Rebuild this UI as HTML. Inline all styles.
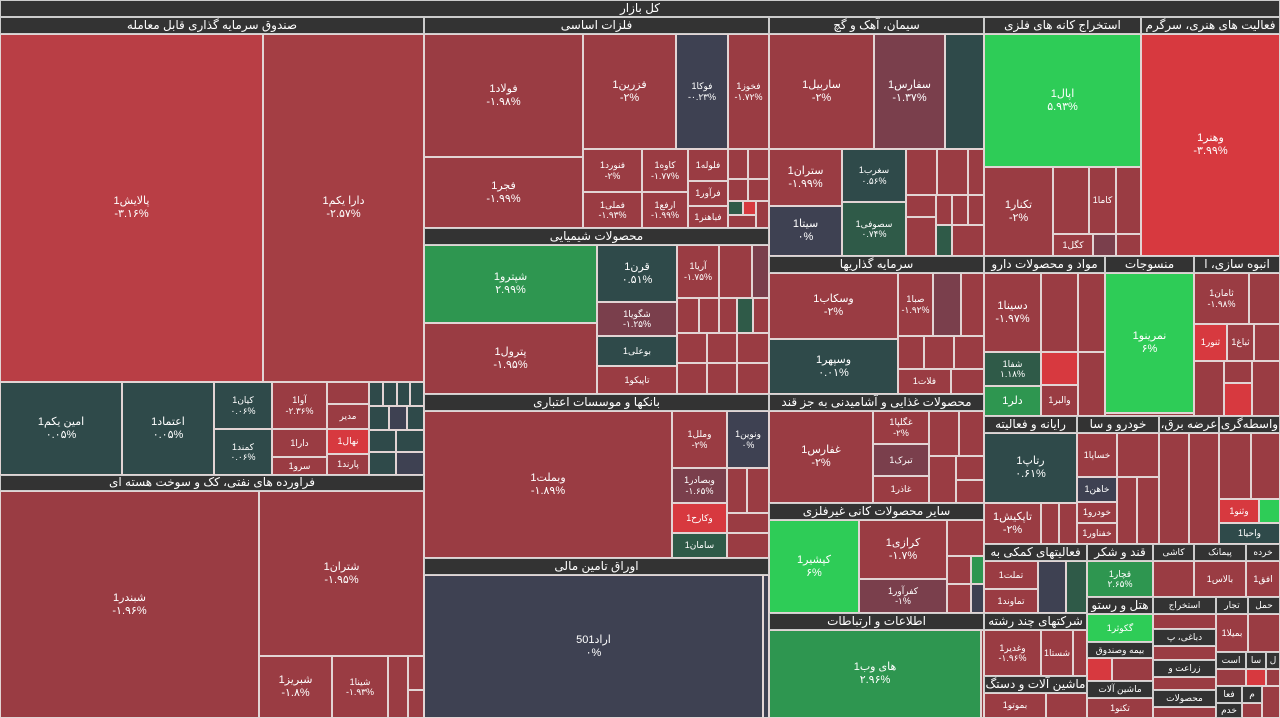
<!DOCTYPE html>
<html><head><meta charset="utf-8">
<style>
body{margin:0;width:1280px;height:718px;overflow:hidden;background:#ddd0d0;font-family:"Liberation Sans","DejaVu Sans",sans-serif;position:relative}
.b{position:absolute;box-sizing:border-box;border:1px solid #e2d4d4;color:#fff;display:flex;flex-direction:column;align-items:center;justify-content:center;text-align:center;font-size:11px;line-height:1.15;overflow:hidden;direction:ltr;background:#9a3c43;white-space:nowrap}
.h{background:#333;font-size:12px;border-color:#ccc;direction:rtl}
.r{background:#9a3c43}.br{background:#b93e45}.rr{background:#d7393f}.g{background:#2ecc57}.dg{background:#2e9650}.s{background:#2f4a4a}.n{background:#3e4152}.m{background:#7a3f4c}.sg{background:#2f5a48}.ar{background:#a43e44}
.f{font-size:9px}
</style></head><body>
<div class="b h" style="left:0;top:0;width:1280px;height:17px">کل بازار</div>

<!-- column 1 -->
<div class="b h" style="left:0;top:17px;width:424px;height:17px">صندوق سرمایه گذاری قابل معامله</div>
<div class="b br" style="left:0;top:34px;width:263px;height:348px">پالایش1<br>-۳.۱۶%</div>
<div class="b ar" style="left:263px;top:34px;width:161px;height:348px">دارا یکم1<br>-۲.۵۷%</div>
<div class="b s" style="left:0;top:382px;width:122px;height:93px">امین یکم1<br>۰.۰۵%</div>
<div class="b s" style="left:122px;top:382px;width:92px;height:93px">اعتماد1<br>۰.۰۵%</div>
<div class="b s f" style="left:214px;top:382px;width:58px;height:47px">کیان1<br>۰.۰۶%</div>
<div class="b s f" style="left:214px;top:429px;width:58px;height:46px">کمند1<br>۰.۰۶%</div>
<div class="b f" style="left:272px;top:382px;width:55px;height:47px">آوا1<br>-۲.۳۶%</div>
<div class="b f" style="left:272px;top:429px;width:55px;height:28px">دارا1</div>
<div class="b f" style="left:272px;top:457px;width:55px;height:18px">سرو1</div>
<div class="b" style="left:327px;top:382px;width:42px;height:22px"></div>
<div class="b f" style="left:327px;top:404px;width:42px;height:25px">مدیر</div>
<div class="b rr f" style="left:327px;top:429px;width:42px;height:25px">نهال1</div>
<div class="b f" style="left:327px;top:454px;width:42px;height:21px">پارند1</div>
<div class="b s" style="left:369px;top:382px;width:14px;height:24px"></div>
<div class="b s" style="left:383px;top:382px;width:14px;height:24px"></div>
<div class="b s" style="left:397px;top:382px;width:13px;height:24px"></div>
<div class="b s" style="left:410px;top:382px;width:14px;height:24px"></div>
<div class="b s" style="left:369px;top:406px;width:20px;height:24px"></div>
<div class="b n" style="left:389px;top:406px;width:18px;height:24px"></div>
<div class="b s" style="left:407px;top:406px;width:17px;height:24px"></div>
<div class="b s" style="left:369px;top:430px;width:27px;height:22px"></div>
<div class="b s" style="left:396px;top:430px;width:28px;height:22px"></div>
<div class="b s" style="left:369px;top:452px;width:27px;height:23px"></div>
<div class="b n" style="left:396px;top:452px;width:28px;height:23px"></div>
<div class="b h" style="left:0;top:475px;width:424px;height:16px">فراورده های نفتی، کک و سوخت هسته ای</div>
<div class="b" style="left:0;top:491px;width:259px;height:227px">شبندر1<br>-۱.۹۶%</div>
<div class="b" style="left:259px;top:491px;width:165px;height:165px">شتران1<br>-۱.۹۵%</div>
<div class="b" style="left:259px;top:656px;width:73px;height:62px">شبریز1<br>-۱.۸%</div>
<div class="b f" style="left:332px;top:656px;width:56px;height:62px">شینا1<br>-۱.۹۳%</div>
<div class="b" style="left:388px;top:656px;width:20px;height:62px"></div>
<div class="b" style="left:408px;top:656px;width:16px;height:34px"></div>
<div class="b" style="left:408px;top:690px;width:16px;height:28px"></div>

<!-- column 2 -->
<div class="b h" style="left:424px;top:17px;width:345px;height:17px">فلزات اساسی</div>
<div class="b" style="left:424px;top:34px;width:159px;height:123px">فولاد1<br>-۱.۹۸%</div>
<div class="b" style="left:424px;top:157px;width:159px;height:71px">فجر1<br>-۱.۹۹%</div>
<div class="b" style="left:583px;top:34px;width:93px;height:115px">فزرین1<br>-۲%</div>
<div class="b n f" style="left:676px;top:34px;width:52px;height:115px">فوکا1<br>-۰.۲۳%</div>
<div class="b f" style="left:728px;top:34px;width:41px;height:115px">فخوز1<br>-۱.۷۲%</div>
<div class="b f" style="left:583px;top:149px;width:59px;height:43px">فنورد1<br>-۲%</div>
<div class="b f" style="left:583px;top:192px;width:59px;height:36px">فملی1<br>-۱.۹۳%</div>
<div class="b f" style="left:642px;top:149px;width:46px;height:43px">کاوه1<br>-۱.۷۷%</div>
<div class="b f" style="left:642px;top:192px;width:46px;height:36px">ارفع1<br>-۱.۹۹%</div>
<div class="b f" style="left:688px;top:149px;width:40px;height:32px">فلوله1</div>
<div class="b f" style="left:688px;top:181px;width:40px;height:25px">فرآور1</div>
<div class="b f" style="left:688px;top:206px;width:40px;height:22px">فباهنر1</div>
<div class="b" style="left:728px;top:149px;width:20px;height:30px"></div>
<div class="b" style="left:748px;top:149px;width:21px;height:30px"></div>
<div class="b" style="left:728px;top:179px;width:20px;height:22px"></div>
<div class="b" style="left:748px;top:179px;width:21px;height:22px"></div>
<div class="b sg" style="left:728px;top:201px;width:15px;height:14px"></div>
<div class="b rr" style="left:743px;top:201px;width:13px;height:14px"></div>
<div class="b" style="left:756px;top:201px;width:13px;height:27px"></div>
<div class="b" style="left:728px;top:215px;width:28px;height:13px"></div>
<div class="b h" style="left:424px;top:228px;width:345px;height:17px">محصولات شیمیایی</div>
<div class="b dg" style="left:424px;top:245px;width:173px;height:78px">شپترو1<br>۲.۹۹%</div>
<div class="b" style="left:424px;top:323px;width:173px;height:71px">پترول1<br>-۱.۹۵%</div>
<div class="b s" style="left:597px;top:245px;width:80px;height:57px">قرن1<br>۰.۵۱%</div>
<div class="b m f" style="left:597px;top:302px;width:80px;height:34px">شگویا1<br>-۱.۲۵%</div>
<div class="b s f" style="left:597px;top:336px;width:80px;height:30px">بوعلی1</div>
<div class="b f" style="left:597px;top:366px;width:80px;height:28px">تاپیکو1</div>
<div class="b f" style="left:677px;top:245px;width:42px;height:53px">آریا1<br>-۱.۷۵%</div>
<div class="b" style="left:719px;top:245px;width:33px;height:53px"></div>
<div class="b m" style="left:752px;top:245px;width:17px;height:53px"></div>
<div class="b" style="left:677px;top:298px;width:22px;height:35px"></div>
<div class="b" style="left:699px;top:298px;width:20px;height:35px"></div>
<div class="b" style="left:719px;top:298px;width:18px;height:35px"></div>
<div class="b sg" style="left:737px;top:298px;width:16px;height:35px"></div>
<div class="b" style="left:753px;top:298px;width:16px;height:35px"></div>
<div class="b" style="left:677px;top:333px;width:30px;height:30px"></div>
<div class="b" style="left:707px;top:333px;width:30px;height:30px"></div>
<div class="b" style="left:737px;top:333px;width:32px;height:30px"></div>
<div class="b" style="left:677px;top:363px;width:30px;height:31px"></div>
<div class="b" style="left:707px;top:363px;width:30px;height:31px"></div>
<div class="b" style="left:737px;top:363px;width:32px;height:31px"></div>
<div class="b h" style="left:424px;top:394px;width:345px;height:17px">بانکها و موسسات اعتباری</div>
<div class="b" style="left:424px;top:411px;width:248px;height:147px">وبملت1<br>-۱.۸۹%</div>
<div class="b f" style="left:672px;top:411px;width:55px;height:57px">وملل1<br>-۲%</div>
<div class="b n f" style="left:727px;top:411px;width:42px;height:57px">ونوین1<br>۰%</div>
<div class="b m f" style="left:672px;top:468px;width:55px;height:35px">وبصادر1<br>-۱.۶۵%</div>
<div class="b rr f" style="left:672px;top:503px;width:55px;height:30px">وکارح1</div>
<div class="b sg f" style="left:672px;top:533px;width:55px;height:25px">سامان1</div>
<div class="b" style="left:727px;top:468px;width:20px;height:45px"></div>
<div class="b" style="left:747px;top:468px;width:22px;height:45px"></div>
<div class="b" style="left:727px;top:513px;width:42px;height:20px"></div>
<div class="b" style="left:727px;top:533px;width:42px;height:25px"></div>
<div class="b h" style="left:424px;top:558px;width:345px;height:17px">اوراق تامین مالی</div>
<div class="b n" style="left:424px;top:575px;width:339px;height:143px">اراد501<br>۰%</div>
<div class="b n" style="left:763px;top:575px;width:6px;height:143px"></div>

<!-- column 3 -->
<div class="b h" style="left:769px;top:17px;width:215px;height:17px">سیمان، آهک و گچ</div>
<div class="b" style="left:769px;top:34px;width:105px;height:115px">ساربیل1<br>-۲%</div>
<div class="b m" style="left:874px;top:34px;width:71px;height:115px">سفارس1<br>-۱.۳۷%</div>
<div class="b s" style="left:945px;top:34px;width:39px;height:115px"></div>
<div class="b" style="left:769px;top:149px;width:73px;height:57px">ستران1<br>-۱.۹۹%</div>
<div class="b n" style="left:769px;top:206px;width:73px;height:50px">سیتا1<br>۰%</div>
<div class="b s f" style="left:842px;top:149px;width:64px;height:53px">سغرب1<br>۰.۵۶%</div>
<div class="b sg f" style="left:842px;top:202px;width:64px;height:54px">سصوفی1<br>۰.۷۴%</div>
<div class="b" style="left:906px;top:149px;width:31px;height:46px"></div>
<div class="b" style="left:937px;top:149px;width:31px;height:46px"></div>
<div class="b" style="left:968px;top:149px;width:16px;height:46px"></div>
<div class="b" style="left:906px;top:195px;width:30px;height:22px"></div>
<div class="b" style="left:936px;top:195px;width:16px;height:30px"></div>
<div class="b" style="left:952px;top:195px;width:16px;height:30px"></div>
<div class="b" style="left:968px;top:195px;width:16px;height:30px"></div>
<div class="b" style="left:906px;top:217px;width:30px;height:39px"></div>
<div class="b sg" style="left:936px;top:225px;width:16px;height:31px"></div>
<div class="b" style="left:952px;top:225px;width:32px;height:31px"></div>
<div class="b h" style="left:769px;top:256px;width:215px;height:17px">سرمایه گذاریها</div>
<div class="b" style="left:769px;top:273px;width:129px;height:66px">وسکاب1<br>-۲%</div>
<div class="b s" style="left:769px;top:339px;width:129px;height:55px">وسپهر1<br>۰.۰۱%</div>
<div class="b f" style="left:898px;top:273px;width:35px;height:63px">صبا1<br>-۱.۹۲%</div>
<div class="b m" style="left:933px;top:273px;width:28px;height:63px"></div>
<div class="b" style="left:961px;top:273px;width:23px;height:63px"></div>
<div class="b" style="left:898px;top:336px;width:26px;height:33px"></div>
<div class="b" style="left:924px;top:336px;width:30px;height:33px"></div>
<div class="b" style="left:954px;top:336px;width:30px;height:33px"></div>
<div class="b f" style="left:898px;top:369px;width:53px;height:25px">فلات1</div>
<div class="b" style="left:951px;top:369px;width:33px;height:25px"></div>
<div class="b h" style="left:769px;top:394px;width:215px;height:17px">محصولات غذایی و آشامیدنی به جز قند</div>
<div class="b" style="left:769px;top:411px;width:104px;height:92px">غفارس1<br>-۲%</div>
<div class="b f" style="left:873px;top:411px;width:56px;height:33px">غگلپا1<br>-۲%</div>
<div class="b m f" style="left:873px;top:444px;width:56px;height:32px">تبرک1</div>
<div class="b f" style="left:873px;top:476px;width:56px;height:27px">غاذر1</div>
<div class="b" style="left:929px;top:411px;width:30px;height:45px"></div>
<div class="b" style="left:959px;top:411px;width:25px;height:45px"></div>
<div class="b" style="left:929px;top:456px;width:27px;height:47px"></div>
<div class="b" style="left:956px;top:456px;width:28px;height:24px"></div>
<div class="b" style="left:956px;top:480px;width:28px;height:23px"></div>
<div class="b h" style="left:769px;top:503px;width:215px;height:17px">سایر محصولات کانی غیرفلزی</div>
<div class="b g" style="left:769px;top:520px;width:90px;height:93px">کپشیر1<br>۶%</div>
<div class="b" style="left:859px;top:520px;width:88px;height:59px">کرازی1<br>-۱.۷%</div>
<div class="b m f" style="left:859px;top:579px;width:88px;height:34px">کفرآور1<br>-۱%</div>
<div class="b" style="left:947px;top:520px;width:37px;height:36px"></div>
<div class="b" style="left:947px;top:556px;width:24px;height:28px"></div>
<div class="b dg" style="left:971px;top:556px;width:13px;height:28px"></div>
<div class="b" style="left:947px;top:584px;width:24px;height:29px"></div>
<div class="b n" style="left:971px;top:584px;width:13px;height:29px"></div>
<div class="b h" style="left:769px;top:613px;width:215px;height:17px">اطلاعات و ارتباطات</div>
<div class="b dg" style="left:769px;top:630px;width:212px;height:88px">های وب1<br>۲.۹۶%</div>
<div class="b" style="left:981px;top:630px;width:3px;height:88px"></div>

<!-- column 4 -->
<div class="b h" style="left:984px;top:17px;width:157px;height:17px">استخراج کانه های فلزی</div>
<div class="b g" style="left:984px;top:34px;width:157px;height:133px">اپال1<br>۵.۹۳%</div>
<div class="b" style="left:984px;top:167px;width:69px;height:89px">تکنار1<br>-۲%</div>
<div class="b" style="left:1053px;top:167px;width:36px;height:67px"></div>
<div class="b f" style="left:1089px;top:167px;width:27px;height:67px">کاما1</div>
<div class="b" style="left:1116px;top:167px;width:25px;height:67px"></div>
<div class="b f" style="left:1053px;top:234px;width:40px;height:22px">کگل1</div>
<div class="b m" style="left:1093px;top:234px;width:23px;height:22px"></div>
<div class="b" style="left:1116px;top:234px;width:25px;height:22px"></div>
<div class="b h" style="left:1141px;top:17px;width:139px;height:17px">فعالیت های هنری، سرگرم</div>
<div class="b rr" style="left:1141px;top:34px;width:139px;height:222px">وهنر1<br>-۳.۹۹%</div>

<div class="b h" style="left:984px;top:256px;width:121px;height:17px">مواد و محصولات دارو</div>
<div class="b" style="left:984px;top:273px;width:57px;height:79px">دسینا1<br>-۱.۹۷%</div>
<div class="b" style="left:1041px;top:273px;width:37px;height:79px"></div>
<div class="b" style="left:1078px;top:273px;width:27px;height:79px"></div>
<div class="b sg f" style="left:984px;top:352px;width:57px;height:34px">شفا1<br>۱.۱۸%</div>
<div class="b dg" style="left:984px;top:386px;width:57px;height:30px">دلر1</div>
<div class="b rr" style="left:1041px;top:352px;width:37px;height:33px"></div>
<div class="b f" style="left:1041px;top:385px;width:37px;height:31px">والبر1</div>
<div class="b" style="left:1078px;top:352px;width:27px;height:64px"></div>
<div class="b h" style="left:1105px;top:256px;width:89px;height:17px">منسوجات</div>
<div class="b g" style="left:1105px;top:273px;width:89px;height:140px">نمرینو1<br>۶%</div>
<div class="b" style="left:1105px;top:413px;width:89px;height:3px"></div>
<div class="b h" style="left:1194px;top:256px;width:86px;height:17px">انبوه سازی، ا</div>
<div class="b f" style="left:1194px;top:273px;width:55px;height:51px">ثامان1<br>-۱.۹۸%</div>
<div class="b" style="left:1249px;top:273px;width:31px;height:51px"></div>
<div class="b rr f" style="left:1194px;top:324px;width:33px;height:37px">ثنور1</div>
<div class="b f" style="left:1227px;top:324px;width:27px;height:37px">ثباغ1</div>
<div class="b" style="left:1254px;top:324px;width:26px;height:37px"></div>
<div class="b" style="left:1194px;top:361px;width:30px;height:55px"></div>
<div class="b rr" style="left:1224px;top:383px;width:28px;height:33px"></div>
<div class="b" style="left:1224px;top:361px;width:28px;height:22px"></div>
<div class="b" style="left:1252px;top:361px;width:28px;height:55px"></div>

<div class="b h" style="left:984px;top:416px;width:93px;height:17px">رایانه و فعالیته</div>
<div class="b s" style="left:984px;top:433px;width:93px;height:70px">رتاپ1<br>۰.۶۱%</div>
<div class="b" style="left:984px;top:503px;width:57px;height:41px">تاپکیش1<br>-۲%</div>
<div class="b" style="left:1041px;top:503px;width:18px;height:41px"></div>
<div class="b" style="left:1059px;top:503px;width:18px;height:41px"></div>
<div class="b h" style="left:1077px;top:416px;width:82px;height:17px">خودرو و سا</div>
<div class="b f" style="left:1077px;top:433px;width:40px;height:44px">خساپا1</div>
<div class="b" style="left:1117px;top:433px;width:42px;height:44px"></div>
<div class="b n f" style="left:1077px;top:477px;width:40px;height:25px">خاهن1</div>
<div class="b f" style="left:1077px;top:502px;width:40px;height:21px">خودرو1</div>
<div class="b f" style="left:1077px;top:523px;width:40px;height:21px">خفناور1</div>
<div class="b" style="left:1117px;top:477px;width:20px;height:67px"></div>
<div class="b" style="left:1137px;top:477px;width:22px;height:67px"></div>
<div class="b h" style="left:1159px;top:416px;width:60px;height:17px">عرضه برق،</div>
<div class="b" style="left:1159px;top:433px;width:30px;height:111px"></div>
<div class="b" style="left:1189px;top:433px;width:30px;height:111px"></div>
<div class="b h" style="left:1219px;top:416px;width:61px;height:17px">واسطه‌گری</div>
<div class="b" style="left:1219px;top:433px;width:32px;height:66px"></div>
<div class="b" style="left:1251px;top:433px;width:29px;height:66px"></div>
<div class="b rr f" style="left:1219px;top:499px;width:40px;height:24px">وثنو1</div>
<div class="b g" style="left:1259px;top:499px;width:21px;height:24px"></div>
<div class="b s f" style="left:1219px;top:523px;width:61px;height:21px">واحیا1</div>

<div class="b h" style="left:984px;top:544px;width:103px;height:17px">فعالیتهای کمکی به</div>
<div class="b f" style="left:984px;top:561px;width:54px;height:28px">تملت1</div>
<div class="b f" style="left:984px;top:589px;width:54px;height:24px" >تماوند1</div>
<div class="b n" style="left:1038px;top:561px;width:28px;height:52px"></div>
<div class="b sg" style="left:1066px;top:561px;width:21px;height:52px"></div>
<div class="b h" style="left:1087px;top:544px;width:66px;height:17px">قند و شکر</div>
<div class="b dg f" style="left:1087px;top:561px;width:66px;height:36px">قچار1<br>۲.۶۵%</div>
<div class="b h" style="left:1087px;top:597px;width:66px;height:17px">هتل و رستو</div>
<div class="b g f" style="left:1087px;top:614px;width:66px;height:28px">گکوثر1</div>
<div class="b h f" style="left:1087px;top:642px;width:66px;height:16px">بیمه وصندوق</div>
<div class="b rr" style="left:1087px;top:658px;width:25px;height:23px"></div>
<div class="b" style="left:1112px;top:658px;width:41px;height:23px"></div>
<div class="b h f" style="left:1087px;top:681px;width:66px;height:17px">ماشین آلات</div>
<div class="b f" style="left:1087px;top:698px;width:66px;height:20px">تکنو1</div>
<div class="b h" style="left:984px;top:613px;width:103px;height:17px">شرکتهای چند رشته</div>
<div class="b f" style="left:984px;top:630px;width:57px;height:46px">وغدیر1<br>-۱.۹۶%</div>
<div class="b f" style="left:1041px;top:630px;width:32px;height:46px">شستا1</div>
<div class="b" style="left:1073px;top:630px;width:14px;height:46px"></div>
<div class="b h" style="left:984px;top:676px;width:103px;height:17px">ماشین آلات و دستگ</div>
<div class="b f" style="left:984px;top:693px;width:62px;height:25px">بموتو1</div>
<div class="b" style="left:1046px;top:693px;width:41px;height:25px"></div>
<div class="b h f" style="left:1153px;top:544px;width:41px;height:17px">کاشی</div>
<div class="b" style="left:1153px;top:561px;width:41px;height:36px"></div>
<div class="b h f" style="left:1194px;top:544px;width:52px;height:17px">پیمانک</div>
<div class="b f" style="left:1194px;top:561px;width:52px;height:36px">بالاس1</div>
<div class="b h f" style="left:1246px;top:544px;width:34px;height:17px">خرده</div>
<div class="b f" style="left:1246px;top:561px;width:34px;height:36px">افق1</div>
<div class="b h f" style="left:1153px;top:597px;width:63px;height:17px">استخراج</div>
<div class="b h f" style="left:1216px;top:597px;width:32px;height:17px">تجار</div>
<div class="b h f" style="left:1248px;top:597px;width:32px;height:17px">حمل</div>
<div class="b" style="left:1153px;top:614px;width:63px;height:15px"></div>
<div class="b h f" style="left:1153px;top:629px;width:63px;height:17px">دباغی، پ</div>
<div class="b" style="left:1153px;top:646px;width:63px;height:14px"></div>
<div class="b h f" style="left:1153px;top:660px;width:63px;height:17px">زراعت و</div>
<div class="b" style="left:1153px;top:677px;width:63px;height:13px"></div>
<div class="b h f" style="left:1153px;top:690px;width:63px;height:17px">محصولات</div>
<div class="b" style="left:1153px;top:707px;width:63px;height:11px"></div>
<div class="b f" style="left:1216px;top:614px;width:32px;height:38px">بمیلا1</div>
<div class="b" style="left:1248px;top:614px;width:32px;height:38px"></div>
<div class="b h f" style="left:1216px;top:652px;width:30px;height:17px">است</div>
<div class="b h f" style="left:1246px;top:652px;width:20px;height:17px">سا</div>
<div class="b h f" style="left:1266px;top:652px;width:14px;height:17px">ل</div>
<div class="b" style="left:1216px;top:669px;width:30px;height:17px"></div>
<div class="b rr" style="left:1246px;top:669px;width:20px;height:17px"></div>
<div class="b" style="left:1266px;top:669px;width:14px;height:17px"></div>
<div class="b h f" style="left:1216px;top:686px;width:26px;height:17px">فعا</div>
<div class="b h f" style="left:1242px;top:686px;width:20px;height:17px">م</div>
<div class="b h f" style="left:1216px;top:703px;width:26px;height:15px">خدم</div>
<div class="b" style="left:1262px;top:686px;width:18px;height:32px"></div>
<div class="b" style="left:1242px;top:703px;width:20px;height:15px"></div>
</body></html>
